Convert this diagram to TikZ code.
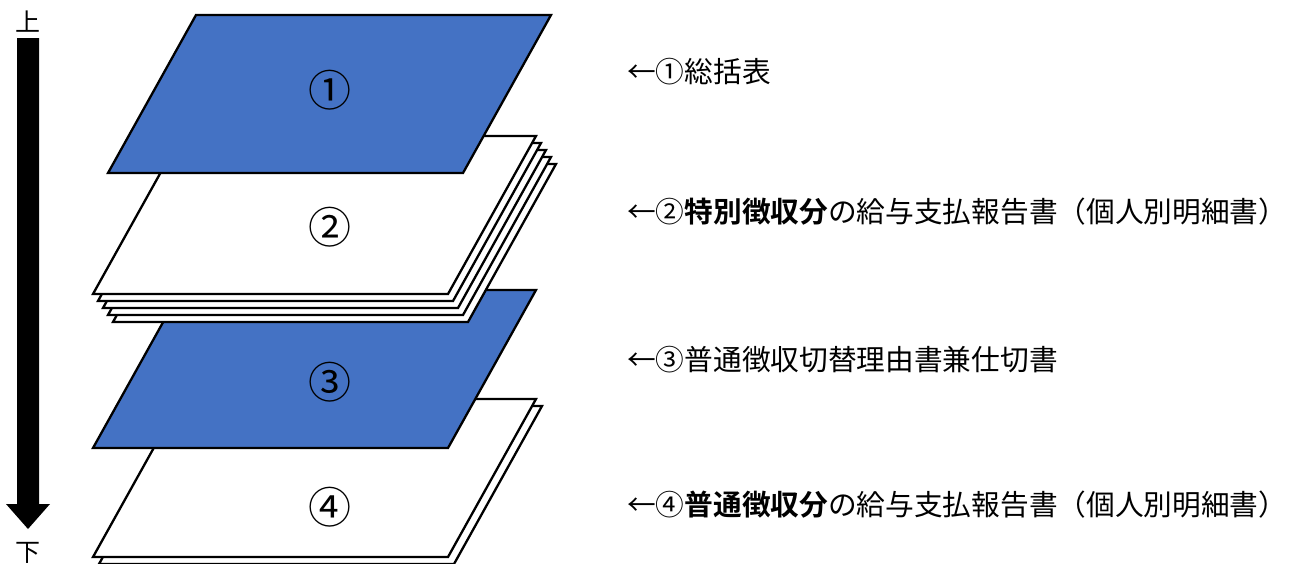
\documentclass[tikz,border=0pt]{standalone}
\usepackage{fontspec}
\newfontfamily\jp{Noto Sans CJK JP}[BoldFont={Noto Sans CJK JP Bold}]
\definecolor{sheetblue}{HTML}{4472C4}
\tikzset{
  sheet/.style={draw=black, line width=2.3pt, line join=miter},
  bluesheet/.style={sheet, fill=sheetblue},
  whitesheet/.style={sheet, fill=white},
  lbl/.style={font=\jp\fontsize{28.7}{31}\selectfont, anchor=west, inner sep=0pt},
  num/.style={font=\jp\fontsize{43}{44}\selectfont, inner sep=0pt},
  dirlbl/.style={font=\jp\fontsize{25}{27}\selectfont, inner sep=0pt},
}
\newcommand\papersheet[3]{%
  \draw[#3] (#1,#2) -- ++(355,0) -- ++(88,-158) -- ++(-355,0) -- cycle;}
\begin{document}
\begin{tikzpicture}[x=1pt,y=-1pt]
\useasboundingbox (0,0) rectangle (1293,563);
% direction arrow
\fill[black] (17,38) -- (39,38) -- (39,504) -- (50,504) -- (28,529) -- (6,504) -- (17,504) -- cycle;
\node[dirlbl] (top) at (28,22) {上};
\node[dirlbl] (bottom) at (28,553) {下};
% sheet 4 (two sheets)
\papersheet{99}{564}{whitesheet}
\papersheet{93}{557}{whitesheet}
% sheet 3
\papersheet{93}{448}{bluesheet}
% sheet 2 stack
\foreach \i in {4,3,2,1} {
  \papersheet{93+5*\i}{294+7*\i}{whitesheet}
}
\papersheet{93}{294}{whitesheet}
% sheet 1
\papersheet{108}{173}{bluesheet}
% numbers on sheets
\node[num] (n1) at (330,90) {①};
\node[num] (n2) at (330,227) {②};
\node[num] (n3) at (330,382) {③};
\node[num] (n4) at (330,507) {④};
% labels
\node[lbl] (l1) at (627,72) {←①総括表};
\node[lbl] (l2) at (627,212) {←②\textbf{特別徴収分}の給与支払報告書（個人別明細書）};
\node[lbl] (l3) at (627,360) {←③普通徴収切替理由書兼仕切書};
\node[lbl] (l4) at (627,505) {←④\textbf{普通徴収分}の給与支払報告書（個人別明細書）};
\end{tikzpicture}
\end{document}
